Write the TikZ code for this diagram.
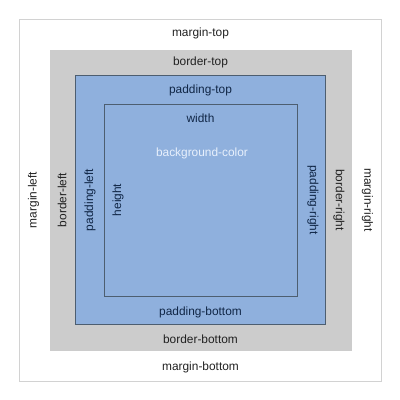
\documentclass[tikz,border=0pt]{standalone}
\usepackage{fontspec}
\setmainfont{Liberation Sans}
\usepackage{xcolor}
\usetikzlibrary{positioning}
\definecolor{marginline}{HTML}{D2D2D2}
\definecolor{bordergray}{HTML}{CCCCCC}
\definecolor{paddingblue}{HTML}{8FB0DD}
\definecolor{boxline}{HTML}{4D5E70}
\definecolor{navytext}{HTML}{102646}
\definecolor{bgtext}{HTML}{E8F0FC}

\begin{document}
\begin{tikzpicture}[x=1pt, y=1pt, every node/.style={font=\fontsize{11.9}{14}\selectfont, align=center, inner sep=0pt},
  lbl/.style={text=black!87},
  plbl/.style={text=navytext}]
\useasboundingbox (0,0) rectangle (400,400);
\node[draw=marginline, line width=0.8pt, minimum width=362pt, minimum height=362pt] (margin) at (200.5,200) {};
\node[fill=bordergray, minimum width=302pt, minimum height=301pt] (border) at (201,199.5) {};
\node[fill=paddingblue, draw=boxline, line width=0.7pt, minimum width=250pt, minimum height=249.5pt] (padding) at (200.5,200) {};
\node[draw=boxline, line width=0.7pt, minimum width=193pt, minimum height=192pt] (content) at (200.5,200) {};
% top and bottom labels
\node[lbl] (mtop) at (200.5,366.7) {margin-top};
\node[lbl] (btop) at (200.5,337.7) {border-top};
\node[plbl] (ptop) at (200.5,310) {padding-top};
\node[plbl] (wd) at (200.5,282) {width};
\node[text=bgtext] (bg) at (202,247) {background-color};
\node[plbl] (pbot) at (200.5,87.7) {padding-bottom};
\node[lbl] (bbot) at (200.5,60.7) {border-bottom};
\node[lbl] (mbot) at (200.5,32.7) {margin-bottom};
% side labels
\node[lbl, rotate=90] (mleft) at (33.5,200) {margin-left};
\node[lbl, rotate=90] (bleft) at (62,200) {border-left};
\node[plbl, rotate=90] (pleft) at (90,200) {padding-left};
\node[plbl, rotate=90] (ht) at (118,200) {height};
\node[plbl, rotate=-90] (pright) at (313,200) {padding-right};
\node[lbl, rotate=-90] (bright) at (339,200) {border-right};
\node[lbl, rotate=-90] (mright) at (367.5,200) {margin-right};
\end{tikzpicture}
\end{document}
